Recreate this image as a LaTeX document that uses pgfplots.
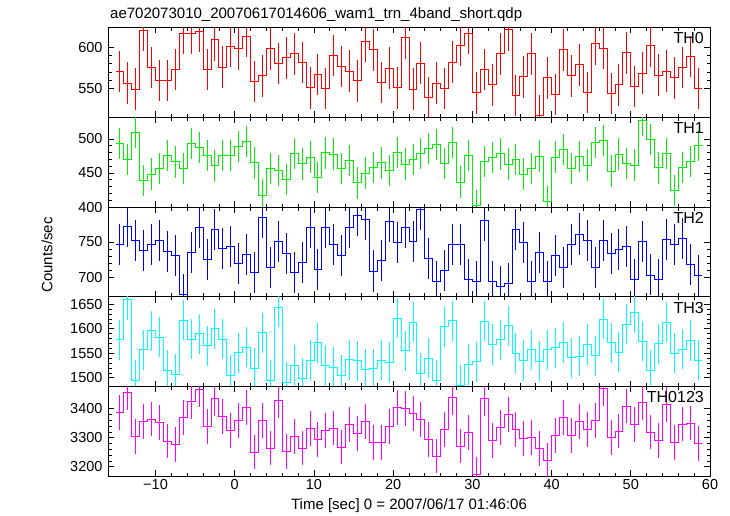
\documentclass[border=0pt]{standalone}
\usepackage{fontspec}
\setmainfont{Liberation Sans}
\usepackage{pgfplots}
\pgfplotsset{compat=1.18}
\usepackage{pgfplotstable}
\definecolor{cR}{RGB}{255,0,0}
\definecolor{cG}{RGB}{0,240,0}
\definecolor{cB}{RGB}{0,0,255}
\definecolor{cC}{RGB}{0,255,255}
\definecolor{cM}{RGB}{255,0,255}

\pgfplotstableread{
t y
-15 570.8
-14 556.7
-13 549.5
-12 620
-11 575.6
-10 560
-9 560
-8 572.8
-7 617
-6 617
-5 619
-4 572.8
-3 608.8
-2 576
-1 600.8
0 598
1 613
2 558.7
3 565.5
4 598
5 580.4
6 587.2
7 592
8 581.6
9 551
10 567
11 550
12 590
13 576.4
14 571
15 559.5
16 607.2
17 596.8
18 557.5
19 574.8
20 551
21 611.2
22 549.5
23 580.8
24 539
25 556.7
26 550
27 582
28 602
29 617
30 545
31 572.8
32 554.7
33 592
34 620.8
35 542
36 564.3
37 592
38 517.9
39 563
40 542.7
41 596.8
42 565.5
43 578.8
44 545.5
45 604
46 598.8
47 544
48 554.7
49 593.2
50 552.7
51 568.7
52 601.6
53 566.3
54 571
55 563
56 575.2
57 588.8
58 550
59 550
}\thzero

\pgfplotstableread{
t y
-15 493.2
-14 469.8
-13 509.8
-12 439
-11 448.3
-10 457
-9 476
-8 466.3
-7 457
-6 493.2
-5 487.8
-4 476
-3 460.5
-2 476
-1 476
0 489.3
1 496
2 464.9
3 417.6
4 457
5 454
6 440.5
7 479
8 463.4
9 473.2
10 443.4
11 479.5
12 477.6
13 456.6
14 468.3
15 435.6
16 449.8
17 458.5
18 464.9
19 454
20 480
21 463
22 469.8
23 478.5
24 485.9
25 492.2
26 463.9
27 495
28 436.6
29 476
30 402
31 466.8
32 472.7
33 478
34 463
35 470
36 448.3
37 457
38 475
39 408.3
40 473.2
41 484.4
42 457
43 474.6
44 461.5
45 495
46 498
47 452.7
48 477.6
49 463.9
50 461.5
51 526.8
52 499
53 457.6
54 478.5
55 424.4
56 458.5
57 467.3
58 490.7
59 490.7
}\thone

\pgfplotstableread{
t y
-15 746.3
-14 772
-13 751.4
-12 737.9
-11 746.3
-10 752.3
-9 736.4
-8 730.4
-7 676.2
-6 735.5
-5 771
-4 725.7
-3 767.3
-2 740.2
-1 743.5
0 719.6
1 732.7
2 707
3 784.6
4 714
5 750.5
6 733.6
7 706.5
8 720.6
9 771
10 711.2
11 770
12 745.8
13 731.3
14 770
15 786.9
16 781.3
17 708.9
18 723.8
19 779.4
20 749
21 771
22 750.5
23 795.8
24 727
25 693.5
26 709.3
27 746.7
28 746.7
29 697.2
30 694
31 779.9
32 694
33 687.4
34 690.7
35 767.3
36 749.5
37 694
38 735
39 693.5
40 730.8
41 714.5
42 745.8
43 761.2
44 751.9
45 714
46 751.9
47 733.2
48 739.3
49 743.5
50 696.3
51 750.5
52 703.3
53 697.2
54 753.3
55 746.7
56 755.1
57 718.2
58 702.8
59 702.8
}\thtwo

\pgfplotstableread{
t y
-15 1577.4
-14 1658.8
-13 1495.3
-12 1557.2
-11 1595.6
-10 1582.8
-9 1514.8
-8 1506.7
-7 1617.1
-6 1578.7
-5 1589.5
-4 1565.3
-3 1599.6
-2 1578.7
-1 1504.7
0 1551.1
1 1562.6
2 1518.8
3 1591.5
4 1495.3
5 1644
6 1491.3
7 1524.9
8 1498.7
9 1536.3
10 1571.3
11 1524.9
12 1520.9
13 1504.7
14 1537
15 1534.3
16 1516.8
17 1518.2
18 1536.3
19 1531
20 1621.8
21 1555.2
22 1613.7
23 1508.7
24 1540.4
25 1494.6
26 1604.3
27 1616.4
28 1485.2
29 1526.9
30 1532.3
31 1615.7
32 1568
33 1577.4
34 1605.7
35 1550.5
36 1535
37 1557.2
38 1533.6
39 1557.2
40 1561.2
41 1572
42 1541
43 1543.7
44 1568
45 1545
46 1619.8
47 1571.3
48 1551.8
49 1609.7
50 1632.6
51 1574.7
52 1514.8
53 1569.3
54 1613.7
55 1549.8
56 1557.9
57 1576.1
58 1535.7
59 1535.7
}\ththree

\pgfplotstableread{
t y
-15 3387.4
-14 3456.3
-13 3304.6
-12 3355.2
-11 3364.4
-10 3351.7
-9 3288.5
-8 3277
-7 3369
-6 3424.1
-5 3465.5
-4 3339
-3 3435.6
-2 3373.6
-1 3325.3
0 3358.6
1 3403.4
2 3250.6
3 3358.6
4 3264.4
5 3428.7
6 3252.9
7 3303.4
8 3264.4
9 3331
10 3293.1
11 3324.1
12 3333.3
13 3267.8
14 3346
15 3315
16 3355.2
17 3283.9
18 3283.9
19 3339
20 3404.6
21 3400
22 3382.8
23 3362
24 3293
25 3236.8
26 3328.7
27 3440
28 3271.3
29 3318.4
30 3172.4
31 3435.6
32 3289.7
33 3334.5
34 3380.5
35 3328.7
36 3296.6
37 3300
38 3262
39 3220.7
40 3306.9
41 3369
42 3308
43 3355.2
44 3327.6
45 3358.6
46 3469
47 3300
48 3323
49 3409.2
50 3344.8
51 3420.7
52 3319.5
53 3289.7
54 3415
55 3283.9
56 3347
57 3350.6
58 3280.5
59 3280.5
}\thall

\pgfplotsset{
  panel/.style={
    scale only axis, width=602pt, height=89.8pt,
    anchor=south west,
    xmin=-16, xmax=60,
    xtick={-10,0,...,60}, minor x tick num=4,
    tick align=inside, xtick pos=both, ytick pos=both,
    yticklabel pos=left, xticklabel pos=lower,
    major tick length=6pt, minor tick length=3.5pt,
    axis line style={line width=0.9pt},
    every tick/.style={black, line width=0.7pt},
    tick label style={font=\fontsize{14.5}{16}\selectfont},
    /pgf/number format/assume math mode=true,
    /pgf/number format/1000 sep={},
    yticklabel style={xshift=-2pt},
    clip=true,
  },
  steps/.style={const plot mark left, mark=none, line width=0.9pt, #1},
  ebars/.style 2 args={draw=none, mark=none, forget plot,
    skip coords between index={74}{75},
    error bars/.cd, y dir=both, y fixed=#1, error mark=none,
    error bar style={draw=#2, line width=0.9pt}},
}

\begin{document}
\begin{tikzpicture}[x=1pt,y=1pt]
\path[use as bounding box] (0,0) rectangle (730,516);

% TH0
\begin{axis}[panel, at={(108pt,398.7pt)}, ymin=515.5, ymax=623.7,
  ytick={550,600}, minor y tick num=4, xticklabels={}]
\addplot[steps=cR] table[x=t,y=y] \thzero;
\addplot[ebars={25}{cR}] table[x expr=\thisrow{t}+0.5, y=y] \thzero;
\node[anchor=north east, font=\fontsize{16}{18}\selectfont, inner sep=0pt] at (rel axis cs:1,1) [xshift=-6pt, yshift=-5pt] {TH0};
\end{axis}

% TH1
\begin{axis}[panel, at={(108pt,308.9pt)}, ymin=400, ymax=531.7,
  ytick={400,450,500}, minor y tick num=4, xticklabels={}]
\addplot[steps=cG] table[x=t,y=y] \thone;
\addplot[ebars={23}{cG}] table[x expr=\thisrow{t}+0.5, y=y] \thone;
\node[anchor=north east, font=\fontsize{16}{18}\selectfont, inner sep=0pt] at (rel axis cs:1,1) [xshift=-6pt, yshift=-5pt] {TH1};
\end{axis}

% TH2
\begin{axis}[panel, at={(108pt,219.1pt)}, ymin=672.3, ymax=799.2,
  ytick={700,750}, minor y tick num=4, xticklabels={}]
\addplot[steps=cB] table[x=t,y=y] \thtwo;
\addplot[ebars={29}{cB}] table[x expr=\thisrow{t}+0.5, y=y] \thtwo;
\node[anchor=north east, font=\fontsize{16}{18}\selectfont, inner sep=0pt] at (rel axis cs:1,1) [xshift=-6pt, yshift=-5pt] {TH2};
\end{axis}

% TH3
\begin{axis}[panel, at={(108pt,129.3pt)}, ymin=1481.8, ymax=1664.9,
  ytick={1500,1550,1600,1650}, minor y tick num=4, xticklabels={}]
\addplot[steps=cC] table[x=t,y=y] \ththree;
\addplot[ebars={41}{cC}] table[x expr=\thisrow{t}+0.5, y=y] \ththree;
\node[anchor=north east, font=\fontsize{16}{18}\selectfont, inner sep=0pt] at (rel axis cs:1,1) [xshift=-6pt, yshift=-5pt] {TH3};
\end{axis}

% TH0123
\begin{axis}[panel, at={(108pt,39.7pt)}, ymin=3166.7, ymax=3477,
  ytick={3200,3300,3400}, minor y tick num=4,
  xticklabels={−10,0,10,20,30,40,50,60}]
\addplot[steps=cM] table[x=t,y=y] \thall;
\addplot[ebars={60}{cM}] table[x expr=\thisrow{t}+0.5, y=y] \thall;
\node[anchor=north east, font=\fontsize{16}{18}\selectfont, inner sep=0pt] at (rel axis cs:1,1) [xshift=-6pt, yshift=-5pt] {TH0123};
\end{axis}

\node[anchor=base west, font=\fontsize{15}{18}\selectfont, inner sep=0pt] at (110,497) {ae702073010\_20070617014606\_wam1\_trn\_4band\_short.qdp};
\node[rotate=90, font=\fontsize{15}{18}\selectfont, inner sep=0pt] at (47,261) {Counts/sec};
\node[font=\fontsize{15}{18}\selectfont, inner sep=0pt] at (409,10) {Time [sec] 0 = 2007/06/17 01:46:06};
\end{tikzpicture}
\end{document}
